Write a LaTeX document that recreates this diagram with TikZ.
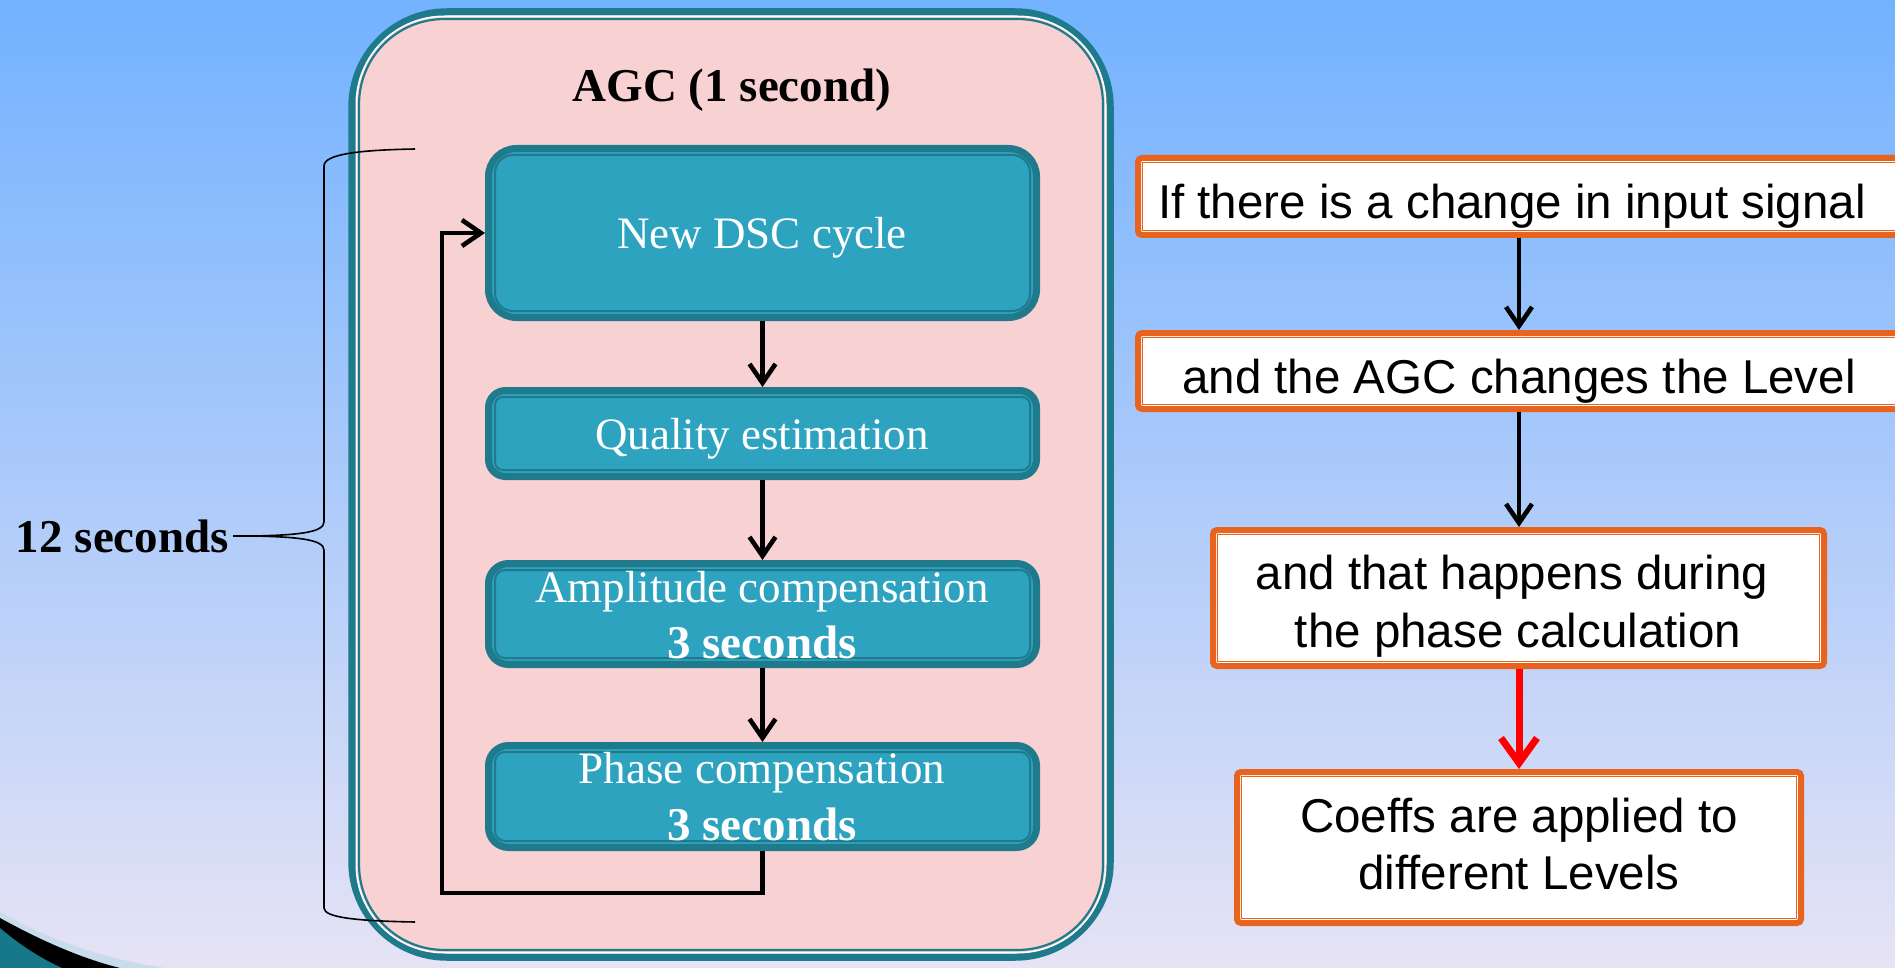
\documentclass[tikz,border=0pt]{standalone}
\usepackage{fontspec}
\setmainfont{Liberation Serif}
\newfontfamily\arialf{Liberation Sans}
\usetikzlibrary{arrows.meta,calc}
\definecolor{bgtop}{HTML}{72B2FF}
\definecolor{bgmid}{HTML}{A8CBF2}
\definecolor{bgbot}{HTML}{E6E3F5}
\definecolor{pinkfill}{HTML}{F8D1D2}
\definecolor{tealdark}{HTML}{1F7A8C}
\definecolor{tealfill}{HTML}{2DA3C0}
\definecolor{orangeb}{HTML}{E8641E}
\definecolor{swlight}{HTML}{C8DCEC}
\definecolor{swteal}{HTML}{16788A}
\begin{document}
\begin{tikzpicture}[x=1pt,y=-1pt,
  tealbox/.style={draw=tealdark, fill=tealfill, line width=7pt, outer sep=3.5pt, minimum width=548pt, inner sep=0pt},
  tealinner/.style={draw=tealdark, line width=2pt},
  orbox/.style={draw=orangeb, fill=white, line width=6pt, outer sep=3pt, rounded corners=4pt, inner sep=0pt},
  orinner/.style={draw=orangeb, line width=1.7pt},
  whtxt/.style={text=white, inner sep=0pt, font=\fontsize{45}{54}\selectfont},
  bktxt/.style={text=black, inner sep=0pt, font=\arialf\fontsize{47.5}{57}\selectfont},
  arr/.style={draw=black, line width=4.6pt, -{Straight Barb[length=19pt,width=26pt,line width=4.6pt]}},
  redarr/.style={draw=red, line width=7pt, -{Straight Barb[length=25pt,width=36pt,line width=7pt]}},
  bracel/.style={draw=black, line width=1.6pt}
]
\useasboundingbox (0,0) rectangle (1895,968);
\shade[top color=bgtop, middle color=bgmid, bottom color=bgbot] (0,0) rectangle (1895,968);
% bottom-left swoosh
\fill[swlight] (0,912) .. controls (50,940) and (100,958) .. (165,968) -- (0,968) -- cycle;
\fill[black] (0,918) .. controls (40,940) and (80,958) .. (120,968) -- (0,968) -- cycle;
\fill[swteal] (0,928) .. controls (20,945) and (40,958) .. (62,968) -- (0,968) -- cycle;

% AGC container
\node[draw=tealdark, fill=pinkfill, line width=7.5pt, outer sep=3.75pt, rounded corners=95pt,
      minimum width=758pt, minimum height=945pt, inner sep=0pt] (agc) at (731,484.5) {};
\draw[white, line width=1.5pt, rounded corners=88pt] ($(agc.north west)+(8,8)$) rectangle ($(agc.south east)+(-8,-8)$);
\draw[tealdark, line width=2.2pt, rounded corners=85pt] ($(agc.north west)+(10.8,10.8)$) rectangle ($(agc.south east)+(-10.8,-10.8)$);
\node[inner sep=0pt, anchor=base, font=\bfseries\fontsize{47}{54}\selectfont] (title) at (732,102) {AGC (1 second)};

% teal boxes
\node[tealbox, minimum height=169pt, rounded corners=28pt] (b1) at (762.5,233) {};
\node[tealbox, minimum height=86pt, rounded corners=17pt] (b2) at (762.5,433.5) {};
\node[tealbox, minimum height=101pt, rounded corners=20pt] (b3) at (762.5,614) {};
\node[tealbox, minimum height=102pt, rounded corners=20pt] (b4) at (762.5,796.5) {};
\draw[tealinner, rounded corners=18pt] ($(b1.north west)+(10,10)$) rectangle ($(b1.south east)+(-10,-10)$);
\draw[tealinner, rounded corners=8pt] ($(b2.north west)+(10,10)$) rectangle ($(b2.south east)+(-10,-10)$);
\draw[tealinner, rounded corners=10pt] ($(b3.north west)+(10,10)$) rectangle ($(b3.south east)+(-10,-10)$);
\draw[tealinner, rounded corners=10pt] ($(b4.north west)+(10,10)$) rectangle ($(b4.south east)+(-10,-10)$);

\node[whtxt, anchor=base] (t1) at (762,249) {New DSC cycle};
\node[whtxt, anchor=base] (t2) at (762,449) {Quality estimation};
\node[whtxt, anchor=base] (t3a) at (762,602) {Amplitude compensation};
\node[whtxt, anchor=base, font=\bfseries\fontsize{47}{54}\selectfont] (t3b) at (762,658) {3 seconds};
\node[whtxt, anchor=base] (t4a) at (762,783) {Phase compensation};
\node[whtxt, anchor=base, font=\bfseries\fontsize{47}{54}\selectfont] (t4b) at (762,840) {3 seconds};

% arrows in the cycle
\draw[arr] (b1.south) -- (b2.north);
\draw[arr] (b2.south) -- (b3.north);
\draw[arr] (b3.south) -- (b4.north);
\coordinate (lb) at (442,893);
\draw[arr] (b4.south) |- (lb) |- (b1.west);

% brace and label
\node[inner sep=4pt, anchor=east, font=\bfseries\fontsize{47}{54}\selectfont] (twelve) at (233,536) {12 seconds};
\draw[bracel] (twelve.east) -- (255,536) .. controls (295,535) and (324,533) .. (324,522) -- (324,166) .. controls (324,154) and (360,150) .. (415,149);
\draw[bracel] (255,536) .. controls (295,537) and (324,539) .. (324,550) -- (324,908) .. controls (324,918) and (360,921) .. (415,922);

% right flow
\node[orbox, minimum width=764pt, minimum height=77pt] (ra) at (1520,196.5) {};
\node[orbox, minimum width=764pt, minimum height=76pt] (rb) at (1520,371) {};
\node[orbox, minimum width=611pt, minimum height=136pt] (rc) at (1518.5,598) {};
\node[orbox, minimum width=564pt, minimum height=151pt] (rd) at (1519,847.5) {};
\foreach \n in {ra,rb,rc,rd}{
  \draw[orinner] ($(\n.north west)+(7.5,7.5)$) rectangle ($(\n.south east)+(-7.5,-7.5)$);
}
\node[bktxt, anchor=base] (ta) at (1512,219) {If there is a change in input signal};
\node[bktxt, anchor=base] (tb) at (1519,393) {and the AGC changes the Level};
\node[bktxt, anchor=base] (tc1) at (1512,589) {and that happens during};
\node[bktxt, anchor=base] (tc2) at (1518,647) {the phase calculation};
\node[bktxt, anchor=base] (td1) at (1519,832) {Coeffs are applied to};
\node[bktxt, anchor=base] (td2) at (1519,889) {different Levels};

\draw[arr] (ra.south -| 1519,0) -- (rb.north -| 1519,0);
\draw[arr] (rb.south -| 1519,0) -- (rc.north -| 1519,0);
\draw[redarr] (rc.south -| 1519,0) -- (rd.north -| 1519,0);
\end{tikzpicture}
\end{document}
